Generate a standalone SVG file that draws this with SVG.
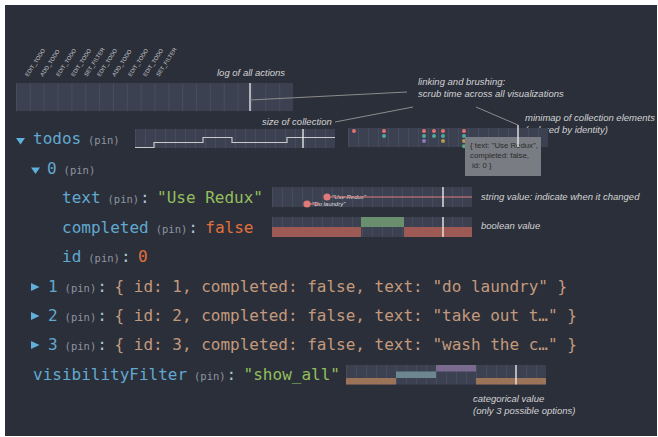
<svg xmlns="http://www.w3.org/2000/svg" width="658" height="437" viewBox="0 0 658 437">
  <defs>
    <!-- timeline cell backgrounds: a fill plus a faint divider at every cell -->
    <pattern id="cells" width="10" height="40" patternUnits="userSpaceOnUse">
      <rect width="10" height="40" fill="#3c4152"/>
      <rect width="1" height="40" fill="#474c5d"/>
    </pattern>
    <pattern id="cellsLog" width="13.85" height="40" patternUnits="userSpaceOnUse">
      <rect width="13.85" height="40" fill="#3c4152"/>
      <rect width="1" height="40" fill="#484d5e"/>
    </pattern>
    <style>
      .mono { font-family: "DejaVu Sans Mono", "Liberation Mono", monospace; }
      .key { font-size: 16px; fill: #61a9d0; }
      .pin { font-size: 10.5px; fill: #8e959f; }
      .colon { font-size: 16px; fill: #a7c6d8; }
      .str { font-size: 16px; fill: #93bf5c; }
      .num { font-size: 16px; fill: #e2703a; }
      .obj { font-size: 16px; fill: #c49a7c; }
      .tri { fill: #5fb0da; }
      .note { font-family: "Liberation Sans", Arial, sans-serif; font-style: italic; font-size: 9.5px; fill: #d2d2d2; }
      .act { font-family: "Liberation Sans", Arial, sans-serif; font-size: 5.6px; fill: #c9c9c9; }
      .cursor { stroke: #f2f2f2; stroke-width: 1.3; }
      .lead { stroke: #8c8c8c; stroke-width: 1; fill: none; }
      .tip { font-family: "Liberation Sans", Arial, sans-serif; font-size: 7.8px; fill: #2b2b2b; }
      .mini { font-family: "Liberation Sans", Arial, sans-serif; font-style: italic; font-size: 6px; fill: #dcdcdc; }
    </style>
  </defs>

  <!-- page -->
  <rect x="0" y="0" width="658" height="437" fill="#ffffff"/>
  <rect x="5" y="5" width="652" height="431" fill="#2b2f3a"/>

  <!-- action log -->
  <g id="action-log">
    <g class="act">
      <text transform="translate(28,77) rotate(-57)">EDIT_TODO</text>
      <text transform="translate(43,77) rotate(-57)">ADD_TODO</text>
      <text transform="translate(59,77) rotate(-57)">EDIT_TODO</text>
      <text transform="translate(74,77) rotate(-57)">EDIT_TODO</text>
      <text transform="translate(87,77) rotate(-57)">SET_FILTER</text>
      <text transform="translate(100,77) rotate(-57)">EDIT_TODO</text>
      <text transform="translate(115,77) rotate(-57)">ADD_TODO</text>
      <text transform="translate(131,77) rotate(-57)">EDIT_TODO</text>
      <text transform="translate(146,77) rotate(-57)">EDIT_TODO</text>
      <text transform="translate(159,77) rotate(-57)">SET_FILTER</text>
    </g>
    <g transform="translate(16,83)">
      <rect width="277" height="28" fill="url(#cellsLog)"/>
      <line class="cursor" x1="234" y1="0" x2="234" y2="28"/>
    </g>
    <text class="note" x="217" y="76">log of all actions</text>
  </g>

  <!-- annotations -->
  <g id="notes">
    <text class="note" x="418" y="85">linking and brushing:</text>
    <text class="note" x="418" y="97">scrub time across all visualizations</text>
    <text class="note" x="262" y="125">size of collection</text>
    <text class="note" x="525" y="121">minimap of collection elements</text>
    <text class="note" x="525" y="133">(colored by identity)</text>
    <text class="note" x="481" y="200">string value: indicate when it changed</text>
    <text class="note" x="481" y="229">boolean value</text>
    <text class="note" x="473" y="402">categorical value</text>
    <text class="note" x="473" y="414">(only 3 possible options)</text>
  </g>

  <!-- todos row -->
  <g id="todos">
    <polygon class="tri" points="16,138 25,138 20.5,144.5"/>
    <text class="mono" y="144"><tspan class="key" x="33">todos</tspan><tspan class="pin" x="88">(pin)</tspan></text>
    <g transform="translate(135,129)">
      <rect width="200" height="19" fill="url(#cells)"/>
      <polyline points="0,18.5 19,18.5 19,13.5 68,13.5 68,8.5 97,8.5 97,13.5 152,13.5 152,8.5 200,8.5" fill="none" stroke="#c9c9c9" stroke-width="1.2"/>
      <line class="cursor" x1="168" y1="0" x2="168" y2="19"/>
    </g>
  </g>

  <!-- minimap of todos -->
  <g id="todos-minimap">
    <g transform="translate(348,128)">
      <rect width="200" height="19" fill="url(#cells)"/>
      <g fill="#e07272">
        <circle cx="6" cy="3" r="2"/><circle cx="36" cy="3" r="2"/><circle cx="76" cy="3" r="2"/>
        <circle cx="86" cy="3" r="2"/><circle cx="95" cy="3" r="2"/><circle cx="116" cy="3" r="2"/>
      </g>
      <g fill="#4fa89a">
        <circle cx="36" cy="8" r="2"/><circle cx="76" cy="8" r="2"/><circle cx="86" cy="8" r="2"/>
        <circle cx="95" cy="8" r="2"/><circle cx="116" cy="8" r="2"/>
      </g>
      <circle cx="76" cy="13" r="2" fill="#8a7cc2"/>
      <circle cx="95" cy="13" r="2" fill="#b39a4d"/>
      <circle cx="116" cy="13" r="2" fill="#b39a4d"/>
      <circle cx="116" cy="18.3" r="2" fill="#55ab7c"/>
    </g>
    <rect x="465" y="137" width="76" height="39" fill="#797c82"/>
    <text class="tip" x="470" y="148">{ text: "Use Redux",</text>
    <text class="tip" x="470" y="158">completed: false,</text>
    <text class="tip" x="472" y="168"> id: 0 }</text>
    <line class="cursor" x1="518" y1="125" x2="518" y2="147"/>
  </g>

  <!-- todo 0 -->
  <g id="todo-0">
    <polygon class="tri" points="31,167.5 40,167.5 35.5,174"/>
    <text class="mono" y="174"><tspan class="key" x="47">0</tspan><tspan class="pin" x="63.6">(pin)</tspan></text>
  </g>

  <g id="todo-0-text">
    <text class="mono" y="203"><tspan class="key" x="62">text</tspan><tspan class="pin" x="107.5">(pin)</tspan><tspan class="colon" x="140">:</tspan><tspan class="str" x="157">"Use Redux"</tspan></text>
    <g transform="translate(272,187)">
      <rect width="200" height="20" fill="url(#cells)"/>
      <text class="mini" x="60" y="12">"Use Redux"</text>
      <text class="mini" x="40" y="19">"Do laundry"</text>
      <line x1="55" y1="10" x2="200" y2="10" stroke="#e07a78" stroke-width="1.2"/>
      <line x1="35" y1="17" x2="48" y2="17" stroke="#e07a78" stroke-width="1.2"/>
      <circle cx="55" cy="10" r="3.6" fill="#e07a78"/>
      <circle cx="35" cy="17" r="3.6" fill="#e07a78"/>
      <line class="cursor" x1="171" y1="0" x2="171" y2="20"/>
    </g>
  </g>

  <g id="todo-0-completed">
    <text class="mono" y="232.5"><tspan class="key" x="62">completed</tspan><tspan class="pin" x="155.7">(pin)</tspan><tspan class="colon" x="188.3">:</tspan><tspan class="num" x="205.3">false</tspan></text>
    <g transform="translate(272,217)">
      <rect width="200" height="20" fill="url(#cells)"/>
      <rect x="89" y="0" width="43" height="10" fill="#6a8f6e"/>
      <rect x="0" y="10" width="89" height="10" fill="#9d5a55"/>
      <rect x="132" y="10" width="68" height="10" fill="#9d5a55"/>
      <line class="cursor" x1="171" y1="0" x2="171" y2="20"/>
    </g>
  </g>

  <g id="todo-0-id">
    <text class="mono" y="262"><tspan class="key" x="62">id</tspan><tspan class="pin" x="88.3">(pin)</tspan><tspan class="colon" x="121">:</tspan><tspan class="num" x="138">0</tspan></text>
  </g>

  <!-- collapsed todos -->
  <g id="todo-1">
    <polygon class="tri" points="31,283 39.5,287 31,291"/>
    <text class="mono" y="291.5"><tspan class="key" x="48">1</tspan><tspan class="pin" x="64.6">(pin)</tspan><tspan class="colon" x="97.2">:</tspan><tspan class="obj" x="114.5">{ id: 1, completed: false, text: "do laundry" }</tspan></text>
  </g>
  <g id="todo-2">
    <polygon class="tri" points="31,312 39.5,316 31,320"/>
    <text class="mono" y="320.5"><tspan class="key" x="48">2</tspan><tspan class="pin" x="64.6">(pin)</tspan><tspan class="colon" x="97.2">:</tspan><tspan class="obj" x="114.5">{ id: 2, completed: false, text: "take out t…" }</tspan></text>
  </g>
  <g id="todo-3">
    <polygon class="tri" points="31,341 39.5,345 31,349"/>
    <text class="mono" y="349.5"><tspan class="key" x="48">3</tspan><tspan class="pin" x="64.6">(pin)</tspan><tspan class="colon" x="97.2">:</tspan><tspan class="obj" x="114.5">{ id: 3, completed: false, text: "wash the c…" }</tspan></text>
  </g>

  <!-- visibility filter -->
  <g id="visibility-filter">
    <text class="mono" y="380"><tspan class="key" x="33">visibilityFilter</tspan><tspan class="pin" x="194">(pin)</tspan><tspan class="colon" x="226.6">:</tspan><tspan class="str" x="243.6">"show_all"</tspan></text>
    <g transform="translate(346,365)">
      <rect width="200" height="19.5" fill="url(#cells)"/>
      <rect x="90" y="0" width="40" height="6.5" fill="#7a6a90"/>
      <rect x="50" y="6.5" width="40" height="6.5" fill="#6d8790"/>
      <rect x="0" y="13" width="50" height="6.5" fill="#9b7358"/>
      <rect x="130" y="13" width="70" height="6.5" fill="#9b7358"/>
      <line class="cursor" x1="170" y1="0" x2="170" y2="19.5"/>
    </g>
  </g>

  <!-- leader lines -->
  <g id="connectors">
    <line class="lead" x1="250" y1="100" x2="407" y2="92"/>
    <line class="lead" x1="335" y1="122" x2="413" y2="107"/>
    <line class="lead" x1="476" y1="107" x2="518" y2="125"/>
  </g>
</svg>
